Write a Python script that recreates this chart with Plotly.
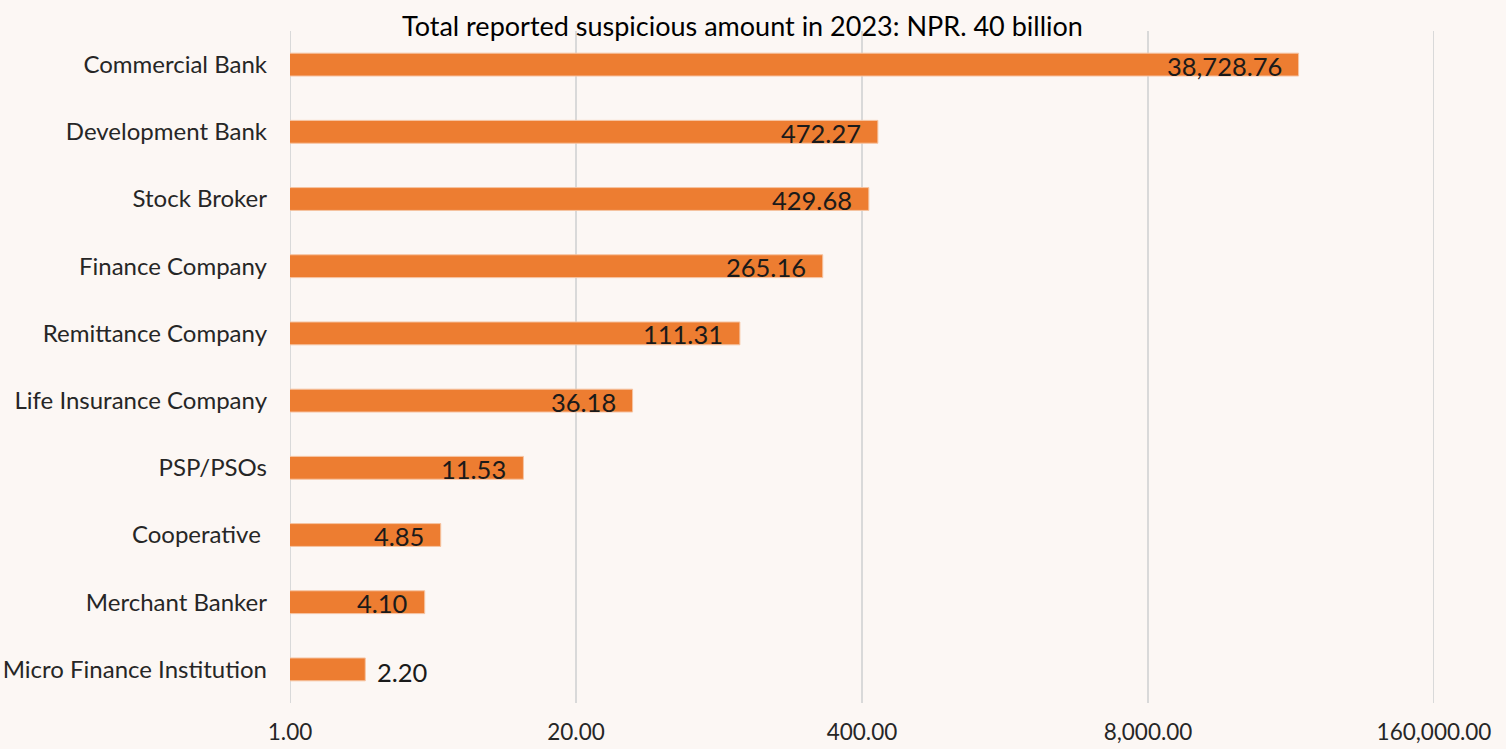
import math
import plotly.graph_objects as go

# Reported suspicious amounts by reporting entity (NPR, millions)
categories = [
    "Commercial Bank", "Development Bank", "Stock Broker", "Finance Company",
    "Remittance Company", "Life Insurance Company", "PSP/PSOs", "Cooperative ",
    "Merchant Banker", "Micro Finance Institution",
]
amounts = [38728.76, 472.27, 429.68, 265.16, 111.31, 36.18, 11.53, 4.85, 4.10, 2.20]
tick_values = [1, 20, 400, 8000, 160000]
tick_labels = ["1.00", "20.00", "400.00", "8,000.00", "160,000.00"]
title_text = "Total reported suspicious amount in 2023: NPR. 40 billion"

FONT = "Lato"
BG = "#FCF7F4"
BAR = "#ED7D31"
GRID = "#D9D9D9"

fig = go.Figure(
    go.Bar(
        x=amounts,
        y=categories,
        orientation="h",
        marker=dict(color=BAR, line=dict(color="#F6C4A2", width=1)),
        width=0.34,
        hoverinfo="x+y",
    )
)

# value labels: inside the bar end, or just past it when the bar is short
for cat, val in zip(categories, amounts):
    inside = val > 3
    fig.add_annotation(
        x=math.log10(val), y=cat, xref="x", yref="y",
        text=f"{val:,.2f}", showarrow=False,
        xanchor="right" if inside else "left",
        xshift=-15 if inside else 10,
        yshift=-1 if inside else -3,
        font=dict(family=FONT, size=25.5, color="#1A1A1A"),
    )

# gridlines at the two ends of the axis range (shape x is a data value)
for edge in (tick_values[0], tick_values[-1]):
    fig.add_shape(
        type="line", xref="x", yref="paper",
        x0=edge, x1=edge, y0=0, y1=1,
        line=dict(color=GRID, width=2), layer="below",
    )

# chart title, centred a little left of the page middle
fig.add_annotation(
    x=(742 - 290) / 1144, xref="paper", y=1 + 6 / 672, yref="paper",
    yanchor="middle", text=title_text, showarrow=False,
    font=dict(family=FONT, size=27, color="#000000"),
)

fig.update_layout(
    width=1506, height=749,
    margin=dict(l=290, r=72, t=31, b=46),
    paper_bgcolor=BG, plot_bgcolor=BG,
    showlegend=False,
    font=dict(family=FONT, color="#262626"),
    xaxis=dict(
        type="log", range=[0, math.log10(160000)],
        tickvals=tick_values, ticktext=tick_labels,
        showgrid=True, gridcolor=GRID, gridwidth=2,
        zeroline=False, showline=False,
        ticks="", ticklabelstandoff=13, automargin=False,
        tickfont=dict(family=FONT, size=22.5, color="#262626"),
    ),
    yaxis=dict(
        categoryorder="array", categoryarray=categories[::-1],
        showgrid=False, zeroline=False, showline=False,
        ticks="", ticklabelstandoff=22, automargin=False,
        tickfont=dict(family=FONT, size=24, color="#262626"),
    ),
)

fig.write_html("out.html")
